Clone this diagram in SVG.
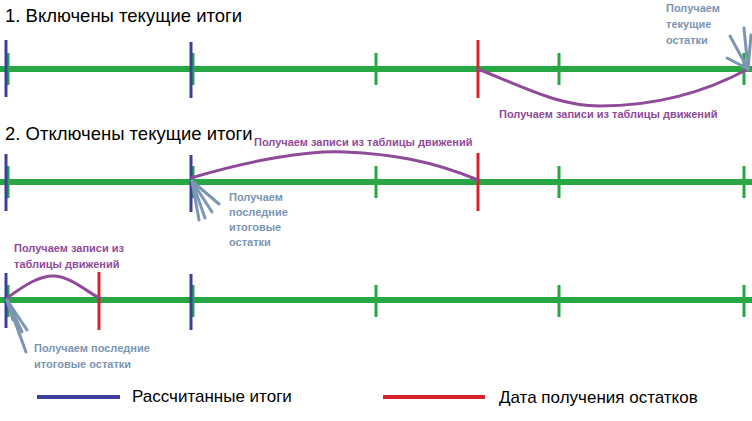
<svg xmlns="http://www.w3.org/2000/svg" width="752" height="421" viewBox="0 0 752 421">
<style>
.ax{stroke:#27a744;stroke-width:6}
.tk{stroke:#27a744;stroke-width:3}
.bl{stroke:#3c3f9c;stroke-width:3}
.rd{stroke:#d6232e;stroke-width:3}
.cv{fill:none;stroke:#8f4a9a;stroke-width:3}
.ar{stroke:#7b95b3;stroke-width:3;stroke-linecap:round}
.h{font-family:"Liberation Sans",Arial,sans-serif;font-size:18.5px;fill:#000}
.p{font-family:"Liberation Sans",Arial,sans-serif;font-size:11px;font-weight:bold;fill:#8f4a9a}
.g{font-family:"Liberation Sans",Arial,sans-serif;font-size:11px;font-weight:bold;fill:#7b95b3}
</style>
<rect width="752" height="421" fill="#fff"/>
<g id="row1">
<text class="h" x="5" y="22">1. Включены текущие итоги</text>
<line class="ax" x1="0" y1="69" x2="752" y2="69"/>
<line class="tk" x1="8" y1="53" x2="8" y2="85"/><line class="tk" x1="193" y1="53" x2="193" y2="85"/><line class="tk" x1="376" y1="53" x2="376" y2="85"/><line class="tk" x1="559" y1="53" x2="559" y2="85"/><line class="tk" x1="744" y1="53" x2="744" y2="85"/>
<line class="bl" x1="6" y1="40" x2="6" y2="97"/><line class="bl" x1="191" y1="42" x2="191" y2="98"/>
<line class="rd" x1="478" y1="40" x2="478" y2="98"/>
<text class="p" x="499" y="118">Получаем записи из таблицы движений</text>
<text class="g" x="666" y="12">Получаем</text><text class="g" x="666" y="28">текущие</text><text class="g" x="666" y="44">остатки</text>
</g>
<g id="row2">
<text class="h" x="5" y="140">2. Отключены текущие итоги</text>
<line class="ax" x1="0" y1="182" x2="752" y2="182"/>
<line class="tk" x1="8" y1="166" x2="8" y2="198"/><line class="tk" x1="193" y1="166" x2="193" y2="198"/><line class="tk" x1="376" y1="166" x2="376" y2="198"/><line class="tk" x1="559" y1="166" x2="559" y2="198"/><line class="tk" x1="744" y1="166" x2="744" y2="198"/>
<line class="bl" x1="6" y1="154" x2="6" y2="211"/><line class="bl" x1="191" y1="155" x2="191" y2="212"/>
<line class="rd" x1="478" y1="153" x2="478" y2="211"/>
<text class="p" x="254" y="146">Получаем записи из таблицы движений</text>
<text class="g" x="229" y="201">Получаем</text><text class="g" x="229" y="216">последние</text><text class="g" x="229" y="231">итоговые</text><text class="g" x="229" y="246">остатки</text>
</g>
<g id="row3">
<line class="ax" x1="0" y1="300" x2="752" y2="300"/>
<line class="tk" x1="8" y1="285" x2="8" y2="317"/><line class="tk" x1="193" y1="285" x2="193" y2="317"/><line class="tk" x1="376" y1="285" x2="376" y2="317"/><line class="tk" x1="559" y1="285" x2="559" y2="317"/><line class="tk" x1="744" y1="285" x2="744" y2="317"/>
<line class="bl" x1="6" y1="273" x2="6" y2="328"/><line class="bl" x1="191" y1="274" x2="191" y2="330"/>
<line class="rd" x1="99" y1="272" x2="99" y2="330"/>
<text class="p" x="14" y="252">Получаем записи из</text><text class="p" x="14" y="268">таблицы движений</text>
<text class="g" x="34" y="352">Получаем последние</text><text class="g" x="34" y="368">итоговые остатки</text>
</g>
<g id="connectors">
<path class="cv" d="M478,69 C530,90 560,106 600,106 C650,106 700,95 748,69"/>
<path class="cv" d="M191,178 C250,160 310,150 345,152 C390,154 430,160 478,180"/>
<path class="cv" d="M7,298 C25,285 40,275 55,276 C70,277 85,290 99,298"/>
<line class="ar" x1="748" y1="69" x2="730" y2="36"/><line class="ar" x1="748" y1="69" x2="744" y2="28"/><line class="ar" x1="748" y1="69" x2="751" y2="35"/><line class="ar" x1="748" y1="69" x2="727" y2="58"/>
<line class="ar" x1="192" y1="181" x2="219" y2="204"/><line class="ar" x1="192" y1="181" x2="212" y2="212"/><line class="ar" x1="192" y1="181" x2="205" y2="218"/><line class="ar" x1="192" y1="181" x2="199" y2="220"/>
<line class="ar" x1="7" y1="300" x2="27" y2="330"/><line class="ar" x1="7" y1="300" x2="22" y2="332"/><line class="ar" x1="7" y1="300" x2="26" y2="352"/><line class="ar" x1="7" y1="300" x2="13" y2="320"/>
</g>
<g id="legend">
<line class="bl" x1="37" y1="397" x2="120" y2="397" style="stroke-width:4"/>
<text class="h" x="132" y="402" style="font-size:17px">Рассчитанные итоги</text>
<line class="rd" x1="383" y1="397" x2="485" y2="397" style="stroke-width:4"/>
<text class="h" x="499" y="403" style="font-size:17px">Дата получения остатков</text>
</g>
</svg>
